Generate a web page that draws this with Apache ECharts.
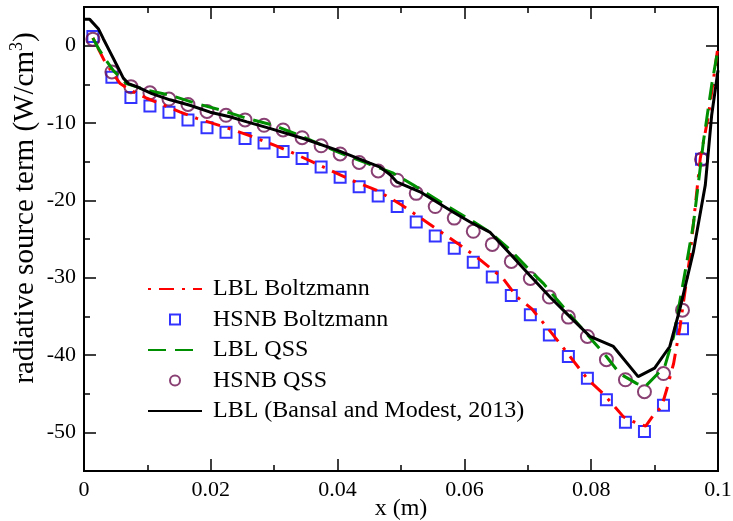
<!DOCTYPE html>
<html><head><meta charset="utf-8">
<script src="https://cdn.jsdelivr.net/npm/echarts@6/dist/echarts.min.js"></script>
<style>html,body{margin:0;padding:0;background:#fff}#c{width:733px;height:521px}</style>
</head><body><div id="c"></div>
<script>
// ---- data ----
const hsnbX = [0.0014,0.0044,0.0074,0.0104,0.0134,0.0164,0.0194,0.0224,0.0254,0.0284,
  0.0314,0.0344,0.0374,0.0404,0.0434,0.0464,0.0494,0.0524,0.0554,0.0584,
  0.0614,0.0644,0.0674,0.0704,0.0734,0.0764,0.0794,0.0824,0.0854,0.0884,0.0914,0.0944,0.0974];
const hsnbBoltzY = [1.2,-4.1,-6.7,-7.8,-8.6,-9.6,-10.6,-11.2,-12.0,-12.6,
  -13.7,-14.6,-15.7,-17.0,-18.25,-19.45,-20.8,-22.8,-24.6,-26.2,
  -28.0,-29.9,-32.3,-34.8,-37.4,-40.2,-43.0,-45.8,-48.7,-49.9,-46.5,-36.6,-14.7];
const hsnbQssY = [0.84,-3.4,-5.3,-6.1,-6.9,-7.6,-8.5,-9.0,-9.6,-10.3,
  -10.9,-11.9,-12.95,-14.0,-15.1,-16.2,-17.4,-19.1,-20.8,-22.3,
  -24.0,-25.7,-27.9,-30.1,-32.5,-35.1,-37.6,-40.6,-43.2,-44.75,-42.4,-34.2,-14.7];
const lblBoltzX = [0.0014,0.0033,0.0057,0.0073,0.0099,0.012,0.0151,0.0178,0.0225,0.026,0.0301,0.0325,0.0362,0.0388,0.0422,0.0462,0.0501,0.0519,0.0554,0.059,0.0625,0.0661,0.0683,0.0706,0.0738,0.0761,0.0795,0.0819,0.0851,0.0866,0.0886,0.0898,0.0911,0.0919,0.093,0.094,0.0956,0.0972,0.0985,0.1];
const lblBoltzY = [1.0,-2.1,-4.9,-5.75,-6.8,-7.5,-8.55,-9.4,-10.6,-11.6,-12.9,-13.7,-15.1,-16.1,-17.4,-18.7,-20.6,-21.6,-23.6,-25.6,-27.7,-30.1,-32.5,-34.0,-37.2,-39.6,-43.2,-45.0,-48.0,-48.6,-49.2,-47.8,-46.7,-44.5,-41.1,-36.4,-27.1,-14.6,-9.0,-0.1];
const lblQssX = [0.0014,0.0023,0.0035,0.0046,0.0067,0.0099,0.0136,0.0178,0.0215,0.0257,0.0299,0.0346,0.0399,0.0446,0.0488,0.0519,0.0562,0.0609,0.064,0.0672,0.0698,0.0724,0.0756,0.0788,0.0806,0.0824,0.0845,0.0872,0.0885,0.0916,0.093,0.0951,0.0961,0.0977,0.099,0.1];
const lblQssY = [1.0,-0.4,-1.9,-3.2,-4.9,-5.75,-6.4,-7.5,-8.3,-9.4,-10.3,-11.8,-13.7,-15.2,-16.5,-18.0,-20.2,-22.5,-24.1,-26.4,-28.6,-30.7,-33.8,-36.8,-38.5,-40.2,-42.4,-43.7,-44.1,-41.5,-37.6,-27.9,-23.2,-12.4,-5.1,-0.4];
const bansalX = [0,0.0009,0.00226,0.00304,0.0041,0.00516,0.0062,0.007,0.0083,0.0107,0.01356,0.0167,0.0199,0.023,0.0257,0.0293,0.0346,0.0399,0.0451,0.0467,0.0483,0.0493,0.053,0.0582,0.0609,0.064,0.0672,0.0703,0.0735,0.0767,0.0798,0.0835,0.0874,0.09,0.0924,0.094,0.0961,0.098,0.099,0.1];
const bansalY = [3.4,3.4,2.2,0.9,-0.8,-2.5,-4.2,-4.9,-5.3,-6.2,-7.0,-7.7,-8.6,-9.2,-9.85,-10.7,-12.0,-13.5,-15.2,-15.7,-16.7,-17.6,-18.9,-21.5,-22.8,-24.1,-26.9,-29.7,-32.5,-35.1,-37.6,-38.9,-42.8,-41.7,-38.9,-34.0,-26.7,-18.0,-9.0,-3.2];
const seriesNames = ['LBL Boltzmann','HSNB Boltzmann','LBL QSS','HSNB QSS','LBL (Bansal and Modest, 2013)'];
const xMajorTicks = [0,0.02,0.04,0.06,0.08,0.1];
const xMinorTicks = [0.01,0.03,0.05,0.07,0.09];
const yMajorTicks = [-50,-40,-30,-20,-10,0];
const yMinorTicks = [-45,-35,-25,-15,-5];
const xTitle = 'x (m)';
const yTitle = 'radiative source term (W/cm{sup|3})';

// ---- chart ----
const FONT = 'Liberation Serif';
const zip = (xs, ys) => xs.map((x, i) => [x, ys[i]]);
function axisBase(min, max, pos, ticks, len, showLabel) {
  return {
    type: 'value', min: min, max: max, position: pos, gridIndex: 0,
    axisLine: {show: true, onZero: false, lineStyle: {color: '#000', width: 2}},
    axisTick: {show: true, inside: true, length: len, customValues: ticks, lineStyle: {color: '#000', width: 1.5}},
    axisLabel: {show: showLabel, customValues: ticks, fontFamily: FONT, fontSize: 22, color: '#000', margin: 8},
    splitLine: {show: false}, minorTick: {show: false}
  };
}
const xAxes = [
  Object.assign(axisBase(0, 0.1, 'bottom', xMajorTicks, 12, true), {
    name: xTitle, nameLocation: 'middle', nameGap: 26, nameMoveOverlap: false,
    nameTextStyle: {fontFamily: FONT, fontSize: 24, color: '#000'}
  }),
  axisBase(0, 0.1, 'bottom', xMinorTicks, 6, false),
  axisBase(0, 0.1, 'top', xMajorTicks, 12, false),
  axisBase(0, 0.1, 'top', xMinorTicks, 6, false)
];
const yAxes = [
  Object.assign(axisBase(-55, 5, 'left', yMajorTicks, 12, true), {
    name: yTitle, nameLocation: 'middle', nameGap: 42, nameMoveOverlap: false,
    nameTextStyle: {fontFamily: FONT, fontSize: 29, color: '#000', padding: [0, 0, 0, 62],
      rich: {sup: {fontFamily: FONT, fontSize: 18, color: '#000', verticalAlign: 'top', padding: [0, 0, 16, 0]}}}
  }),
  axisBase(-55, 5, 'left', yMinorTicks, 6, false),
  axisBase(-55, 5, 'right', yMajorTicks, 12, false),
  axisBase(-55, 5, 'right', yMinorTicks, 6, false)
];
const hideDot = {color: 'rgba(0,0,0,0)', borderWidth: 0, opacity: 0};
const chart = echarts.init(document.getElementById('c'), null, {renderer: 'canvas'});
chart.setOption({
  animation: false,
  backgroundColor: '#fff',
  grid: {left: 84, right: 15, top: 7, bottom: 50, outerBoundsMode: 'none', containLabel: false},
  xAxis: xAxes,
  yAxis: yAxes,
  legend: {
    orient: 'vertical', left: 142, top: 272, itemWidth: 54, itemHeight: 10, itemGap: 6.5,
    textStyle: {fontFamily: FONT, fontSize: 24, color: '#000', padding: [0, 0, 0, 6]},
    data: [
      {name: seriesNames[0], itemStyle: hideDot},
      {name: seriesNames[1], icon: 'path://M0,0H10V10H0Z'},
      {name: seriesNames[2], itemStyle: hideDot},
      {name: seriesNames[3]},
      {name: seriesNames[4], itemStyle: hideDot}
    ]
  },
  series: [
    {name: seriesNames[0], type: 'line', data: zip(lblBoltzX, lblBoltzY), showSymbol: false, symbol: 'none',
     lineStyle: {color: '#ff0000', width: 3, type: [3, 8, 15, 8]}, itemStyle: {color: '#ff0000'}},
    {name: seriesNames[1], type: 'scatter', data: zip(hsnbX, hsnbBoltzY), symbol: 'rect', symbolSize: 11,
     itemStyle: {color: 'rgba(0,0,0,0)', borderColor: '#0000ff', borderWidth: 2}},
    {name: seriesNames[2], type: 'line', data: zip(lblQssX, lblQssY), showSymbol: false, symbol: 'none',
     lineStyle: {color: '#008f00', width: 3, type: [18, 9]}, itemStyle: {color: '#008f00'}},
    {name: seriesNames[3], type: 'scatter', data: zip(hsnbX, hsnbQssY), symbol: 'circle', symbolSize: 13,
     itemStyle: {color: 'rgba(0,0,0,0)', borderColor: '#6b1050', borderWidth: 2}},
    {name: seriesNames[4], type: 'line', data: zip(bansalX, bansalY), showSymbol: false, symbol: 'none',
     lineStyle: {color: '#000', width: 3}, itemStyle: {color: '#000'}}
  ]
});
</script></body></html>
